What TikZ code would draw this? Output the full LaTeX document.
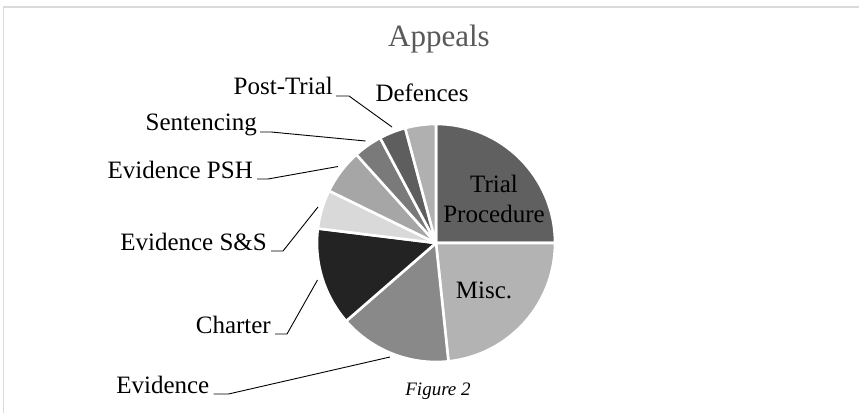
\documentclass[tikz,border=0pt]{standalone}
\usepackage{fontspec}
\setmainfont{Liberation Serif}
\definecolor{cTrial}{HTML}{606060}
\definecolor{cMisc}{HTML}{B3B3B3}
\definecolor{cEvid}{HTML}{898989}
\definecolor{cChart}{HTML}{232323}
\definecolor{cSS}{HTML}{D9D9D9}
\definecolor{cPSH}{HTML}{A6A6A6}
\definecolor{cSent}{HTML}{7A7A7A}
\definecolor{cPost}{HTML}{5E5E5E}
\definecolor{cDef}{HTML}{B0B0B0}
\definecolor{cTitle}{HTML}{595959}
\definecolor{cFrame}{HTML}{DADADA}
\tikzset{
  slicestyle/.style={draw=white, line width=2.6pt, line join=round},
  lab/.style={inner sep=0pt, anchor=base east, font=\fontsize{25}{30}\selectfont},
  inlab/.style={inner sep=0pt, align=center, font=\fontsize{25}{30}\selectfont},
  leader/.style={draw=black, line width=0.9pt},
}
\newcommand\pieslice[3]{%
  \path[fill=#3, slicestyle] (C) -- ++(#1:119) arc[start angle=#1, end angle=#2, radius=119pt] -- cycle;}
\begin{document}
\begin{tikzpicture}[x=1pt,y=1pt]
\useasboundingbox (0,0) rectangle (859,413);
\fill[white] (0,0) rectangle (859,413);
% frame (top and left)
\draw[cFrame, line width=1.5pt] (3.5,0) -- (3.5,406) -- (859,406);
\coordinate (C) at (436,170);
% slices
\pieslice{90}{0}{cTrial}
\pieslice{0}{-84}{cMisc}
\pieslice{-84}{-139}{cEvid}
\pieslice{-139}{-187}{cChart}
\pieslice{-187}{-206}{cSS}
\pieslice{-206}{-228}{cPSH}
\pieslice{-228}{-242}{cSent}
\pieslice{-242}{-255}{cPost}
\pieslice{-255}{-270}{cDef}
% title
\node[inner sep=0pt, anchor=base, text=cTitle, font=\fontsize{31}{36}\selectfont] (title) at (439,366) {Appeals};
% inner labels
\node[inlab, anchor=base] (trial) at (494,191) {Trial\\Procedure};
\node[inlab, anchor=base] (misc) at (484,115) {Misc.};
% caption
\node[inner sep=0pt, anchor=base, font=\fontsize{19}{22}\selectfont\itshape] (fig) at (438,18) {Figure 2};
% outer labels
\node[inner sep=0pt, anchor=base, font=\fontsize{25}{30}\selectfont] (def) at (422,311) {Defences};
\node[lab] (post) at (333,318) {Post-Trial};
\node[lab] (sent) at (257,282) {Sentencing};
\node[lab] (psh) at (253,235) {Evidence PSH};
\node[lab] (ss) at (267,163) {Evidence S\&S};
\node[lab] (chart) at (271,80) {Charter};
\node[lab] (evid) at (209.5,20) {Evidence};
% leader ends on pie
\coordinate (postE) at (392,286);
\coordinate (sentE) at (365.5,272);
\coordinate (pshE) at (338,246.5);
\coordinate (ssE) at (318,206);
\coordinate (chartE) at (317.5,133);
\coordinate (evidE) at (390,56);
% leaders
\draw[leader] ([xshift=3pt,yshift=-1pt]post.base east) -- ++(13,0) -- (postE);
\draw[leader] ([xshift=3pt,yshift=-1pt]sent.base east) -- ++(11,0) -- (sentE);
\draw[leader] ([xshift=4pt,yshift=-1pt]psh.base east) -- ++(11,0) -- (pshE);
\draw[leader] ([xshift=4pt,yshift=-1pt]ss.base east) -- ++(12,0) -- (ssE);
\draw[leader] ([xshift=4pt,yshift=-1pt]chart.base east) -- ++(12,0) -- (chartE);
\draw[leader] ([xshift=4pt,yshift=-1pt]evid.base east) -- ++(15,0) -- (evidE);
\end{tikzpicture}
\end{document}
